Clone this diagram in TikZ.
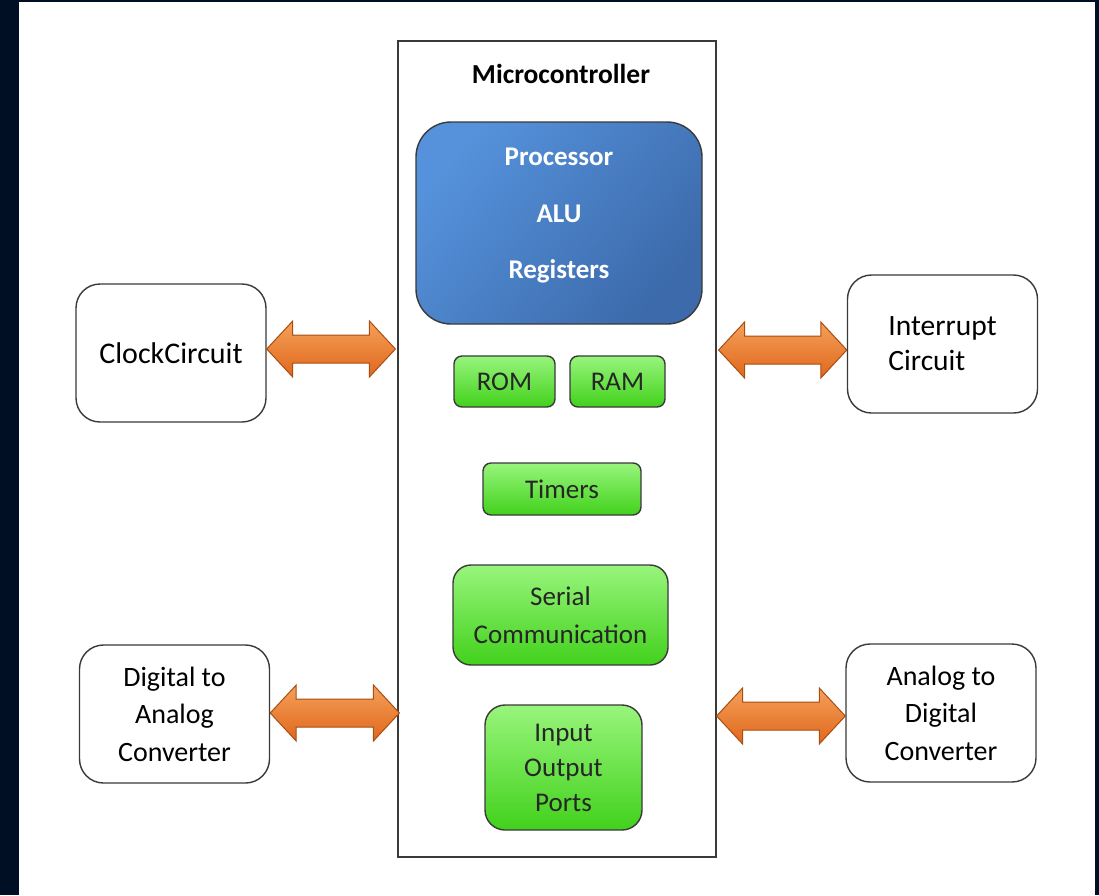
\documentclass[tikz,border=0pt]{standalone}
\usepackage{fontspec}
\setmainfont{Carlito}
\usetikzlibrary{calc}

\definecolor{navy}{HTML}{000F24}
\definecolor{edge}{HTML}{3A3A3A}
\definecolor{bluetop}{HTML}{5592DB}
\definecolor{bluebot}{HTML}{3C6AAB}
\definecolor{greentop}{HTML}{98F57C}
\definecolor{greenbot}{HTML}{42D11C}
\definecolor{orangetop}{HTML}{F5A05A}
\definecolor{orangebot}{HTML}{E0671C}
\definecolor{orangeedge}{HTML}{A94E12}

% horizontal double block arrow between two anchors, centred on height #3
\newcommand\busarrow[3]{%
  \path[busarrow] let \p1=(#1), \p2=(#2), \p3=(0,#3) in
    (\x1,\y3) -- (\x1+26pt,\y3+28pt) -- (\x1+26pt,\y3+14pt)
    -- (\x2-26pt,\y3+14pt) -- (\x2-26pt,\y3+28pt) -- (\x2,\y3)
    -- (\x2-26pt,\y3-28pt) -- (\x2-26pt,\y3-14pt)
    -- (\x1+26pt,\y3-14pt) -- (\x1+26pt,\y3-28pt) -- cycle;}

\tikzset{
  box/.style={draw=edge, line width=1.4pt, rounded corners=#1,
    align=center, inner sep=0pt},
  box/.default=8pt,
  outerbox/.style={box=24pt, fill=white, minimum width=190pt,
    minimum height=138pt, font=\fontsize{28}{37.5}\selectfont},
  greenbox/.style={box=#1, top color=greentop, bottom color=greenbot,
    text=black!85, font=\fontsize{27}{34}\selectfont},
  greenbox/.default=8pt,
  busarrow/.style={draw=orangeedge, line width=1pt, line join=miter,
    top color=orangetop, bottom color=orangebot},
}

\begin{document}
\begin{tikzpicture}[x=1pt,y=-1pt]
\useasboundingbox (0,0) rectangle (1099,895);
\fill[white] (0,0) rectangle (1099,895);
\fill[navy] (0,0) rectangle (19,895);
\fill[navy] (0,0) rectangle (1099,2);
\fill[navy] (1095,0) rectangle (1099,895);

% microcontroller frame
\node[draw=edge, line width=1.2pt, fill=white, minimum width=318pt,
  minimum height=816pt, inner sep=0pt] (mc) at (557,449) {};
\node[font=\bfseries\fontsize{27.5}{30}\selectfont] (title) at (561,74) {Microcontroller};

% processor block
\node[box=35pt, shading=axis, left color=bluetop, right color=bluebot,
  shading angle=50, minimum width=286pt, minimum height=202pt] (cpu) at (559,223) {};
\node[text=white, align=center, font=\bfseries\fontsize{27}{56.5}\selectfont]
  (cputext) at ($(cpu.center)+(0,-7)$) {Processor\\ALU\\Registers};

% on-chip peripherals
\node[greenbox, minimum width=101pt, minimum height=51pt] (rom) at (504.5,381.5) {ROM};
\node[greenbox, minimum width=95pt, minimum height=51pt] (ram) at (617.5,381.5) {RAM};
\node[greenbox, minimum width=158pt, minimum height=52pt] (timers) at (562,489) {Timers};
\node[greenbox=18pt, minimum width=215pt, minimum height=100pt,
  font=\fontsize{27}{38}\selectfont] (serial) at (560.5,615) {Serial\\Communication};
\node[greenbox=20pt, minimum width=157pt, minimum height=125pt,
  font=\fontsize{27}{35}\selectfont] (io) at (563.5,767.5) {Input\\Output\\Ports};

% external circuits
\node[outerbox, font=\fontsize{30}{36}\selectfont] (clock) at (171,353) {ClockCircuit};
\node[outerbox, align=left, font=\fontsize{29.5}{35}\selectfont] (irq) at (942.5,344)
  {Interrupt\\Circuit};
\node[outerbox] (dac) at (174.5,714) {Digital to\\Analog\\Converter};
\node[outerbox] (adc) at (941,713) {Analog to\\Digital\\Converter};

% buses
\busarrow{clock.east}{$(mc.west)+(-2,0)$}{349}
\busarrow{$(mc.east)+(2,0)$}{irq.west}{350}
\busarrow{dac.east}{$(mc.west)+(2,0)$}{713}
\busarrow{mc.east}{adc.west}{716}
\end{tikzpicture}
\end{document}
